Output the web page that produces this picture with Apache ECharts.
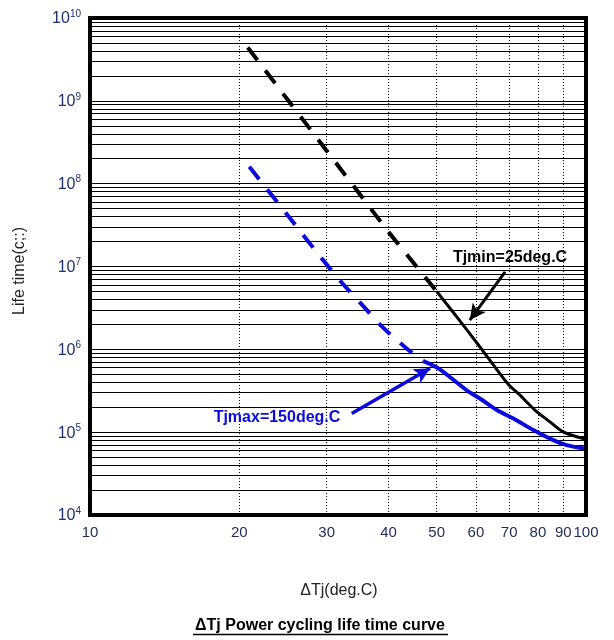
<!DOCTYPE html>
<html>
<head>
<meta charset="utf-8">
<script src="https://cdn.jsdelivr.net/npm/echarts@6/dist/echarts.min.js"></script>
<style>
html,body{margin:0;padding:0;background:#fff;}
#c{width:614px;height:640px;}
</style>
</head>
<body>
<div id="c"></div>
<script>
// ---- data ----
const xTickLabels = [10, 20, 30, 40, 50, 60, 70, 80, 90, 100];
const yDecades = [4, 5, 6, 7, 8, 9, 10];
const xMinorLines = [20, 30, 40, 50, 60, 70, 80, 90];

// Tjmin = 25 deg.C
const tjminDashX = [20.8, 30, 40, 50];
const tjminDashY = [4.4e9, 2.5e8, 2.6e7, 5.0e6];
const tjminSolidX = [50, 56.2, 61.1, 65.5, 69.7, 73.6, 78.9, 84.6, 89.9, 100];
const tjminSolidY = [5.0e6, 2.06e6, 1.07e6, 6.15e5, 3.8e5, 2.8e5, 1.85e5, 1.33e5, 1.01e5, 8.2e4];

// Tjmax = 150 deg.C
const tjmaxDashX = [20.95, 25.2, 29.3, 32.4, 35.6, 38.8, 43.8, 47];
const tjmaxDashY = [1.6e8, 3.95e7, 1.26e7, 6.1e6, 3.3e6, 1.88e6, 9.9e5, 7.2e5];
const tjmaxSolidX = [47, 50.4, 57.5, 61.1, 66.1, 71.4, 78.3, 85.9, 91.4, 100];
const tjmaxSolidY = [7.2e5, 5.88e5, 3.2e5, 2.55e5, 1.85e5, 1.46e5, 1.06e5, 8.0e4, 6.97e4, 6.3e4];

// annotation arrows (data coordinates)
const tjminArrow = [[68.7, 8.6e6], [58.3, 2.25e6]];
const tjmaxArrow = [[33.7, 1.68e5], [48.5, 5.9e5]];

// ---- helpers ----
const zip = (xs, ys) => xs.map((x, i) => [x, ys[i]]);
const hLines = [];
yDecades.slice(0, -1).forEach(d => {
  for (let m = 1; m <= 9; m++) hLines.push({ yAxis: m * Math.pow(10, d) });
});
const vLines = xMinorLines.map(v => ({ xAxis: v }));

const BLUE = '#0b0bdc';
const FONT = '"Liberation Sans", Arial, sans-serif';

const chart = echarts.init(document.getElementById('c'), null, { renderer: 'canvas' });
chart.setOption({
  animation: false,
  backgroundColor: '#fff',
  grid: { left: 90, right: 28, top: 18, bottom: 125, show: true, borderColor: '#000', borderWidth: 4, backgroundColor: 'transparent', z: 10 },
  xAxis: {
    type: 'log', logBase: 10, min: 10, max: 100,
    axisLine: { show: false }, axisTick: { show: false }, splitLine: { show: false },
    axisLabel: {
      customValues: xTickLabels, margin: 10,
      color: '#1f2a55', fontSize: 15, fontFamily: FONT,
      formatter: v => String(Math.round(v))
    }
  },
  yAxis: {
    type: 'log', logBase: 10, min: 1e4, max: 1e10,
    axisLine: { show: false }, axisTick: { show: false }, splitLine: { show: false },
    axisLabel: {
      margin: 9, color: '#1f3070', fontFamily: FONT,
      formatter: v => '{b|10}{s|' + Math.round(Math.log10(v)) + '}',
      rich: {
        b: { fontSize: 16, fontFamily: FONT, color: '#1f3070', lineHeight: 18, verticalAlign: 'bottom', padding: [6, 0, 0, 0] },
        s: { fontSize: 10, fontFamily: FONT, color: '#1f3070', lineHeight: 18, verticalAlign: 'top', padding: [0, 0, 10, 0] }
      }
    }
  },
  series: [
    {
      type: 'line', data: [], z: 1, silent: true,
      markLine: {
        silent: true, symbol: 'none', animation: false,
        label: { show: false },
        lineStyle: { color: '#000', width: 1.2, type: 'solid' },
        data: hLines
      }
    },
    {
      type: 'line', data: [], z: 1, silent: true,
      markLine: {
        silent: true, symbol: 'none', animation: false,
        label: { show: false },
        lineStyle: { color: '#000', width: 1, type: [1, 2] },
        data: vLines
      }
    },
    {
      type: 'line', z: 5, data: zip(tjminDashX, tjminDashY), showSymbol: false,
      lineStyle: { color: '#000', width: 4, type: [16, 13], cap: 'butt' }
    },
    {
      type: 'line', z: 5, data: zip(tjminSolidX, tjminSolidY), showSymbol: false, smooth: 0.3,
      lineStyle: { color: '#000', width: 3 }
    },
    {
      type: 'line', z: 5, data: zip(tjmaxDashX, tjmaxDashY), showSymbol: false, smooth: 0.3,
      lineStyle: { color: BLUE, width: 4, type: [16, 13], cap: 'butt' }
    },
    {
      type: 'line', z: 5, data: zip(tjmaxSolidX, tjmaxSolidY), showSymbol: false, smooth: 0.3,
      lineStyle: { color: BLUE, width: 4 }
    },
    {
      type: 'line', data: [], z: 6, silent: true,
      markLine: {
        silent: true, animation: false, symbol: ['none', 'arrow'], symbolSize: [12, 16],
        label: { show: false },
        lineStyle: { color: '#000', width: 3, type: 'solid' },
        data: [[{ coord: tjminArrow[0] }, { coord: tjminArrow[1] }]]
      }
    },
    {
      type: 'line', data: [], z: 6, silent: true,
      markLine: {
        silent: true, animation: false, symbol: ['none', 'arrow'], symbolSize: [12, 16],
        label: { show: false },
        lineStyle: { color: BLUE, width: 3.5, type: 'solid' },
        data: [[{ coord: tjmaxArrow[0] }, { coord: tjmaxArrow[1] }]]
      }
    }
  ],
  graphic: [
    { type: 'text', x: 20, y: 271, rotation: Math.PI / 2,
      style: { text: 'Life time(c;:)', font: '16px ' + FONT, fill: '#222', align: 'center', verticalAlign: 'middle' } },
    { type: 'text', x: 339, y: 591,
      style: { text: 'ΔTj(deg.C)', font: '16px ' + FONT, fill: '#222', align: 'center', verticalAlign: 'middle' } },
    { type: 'text', x: 320, y: 626,
      style: { text: 'ΔTj Power cycling life time curve', font: 'bold 16px ' + FONT, fill: '#000', align: 'center', verticalAlign: 'middle' } },
    { type: 'line', shape: { x1: 193, y1: 634.5, x2: 448, y2: 634.5 }, style: { stroke: '#000', lineWidth: 1.5 } },
    { type: 'text', x: 510, y: 258, z: 20,
      style: { text: 'Tjmin=25deg.C', font: 'bold 16px ' + FONT, fill: '#000', align: 'center', verticalAlign: 'middle' } },
    { type: 'text', x: 277, y: 418, z: 20,
      style: { text: 'Tjmax=150deg.C', font: 'bold 16px ' + FONT, fill: BLUE, align: 'center', verticalAlign: 'middle' } }
  ]
});
</script>
</body>
</html>
